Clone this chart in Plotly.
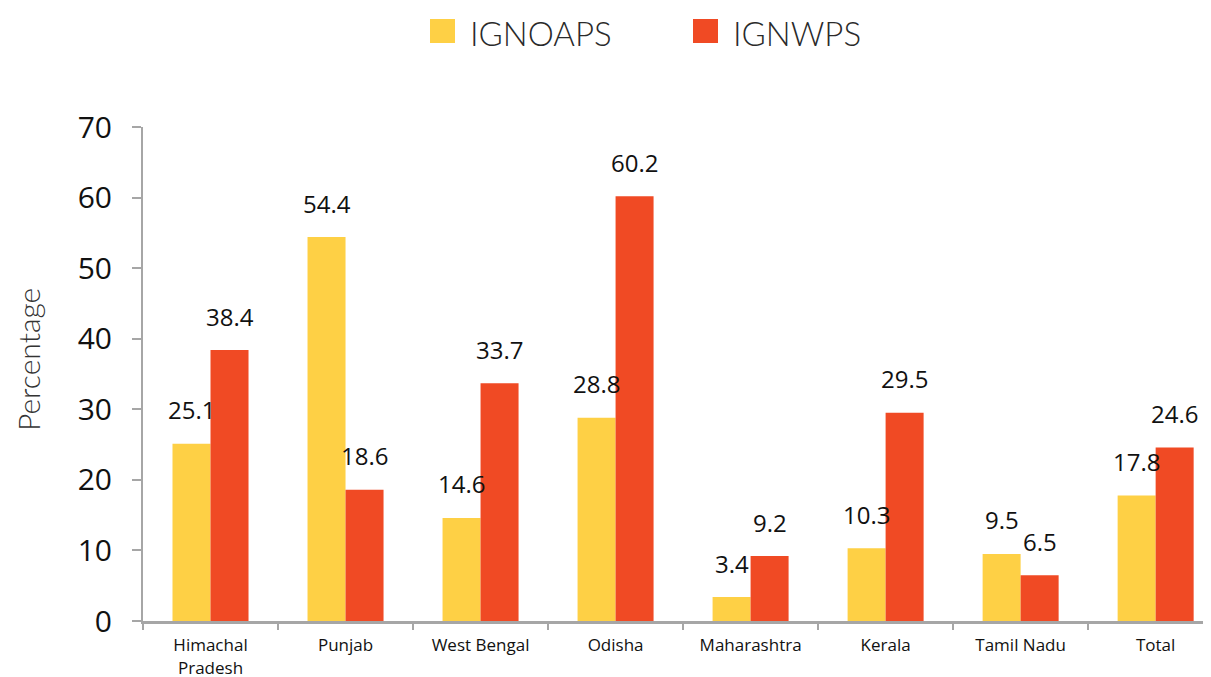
import plotly.graph_objects as go

categories = ["Himachal<br>Pradesh", "Punjab", "West Bengal", "Odisha",
              "Maharashtra", "Kerala", "Tamil Nadu", "Total"]
ignoaps = [25.1, 54.4, 14.6, 28.8, 3.4, 10.3, 9.5, 17.8]
ignwps = [38.4, 18.6, 33.7, 60.2, 9.2, 29.5, 6.5, 24.6]
series_names = ["IGNOAPS", "IGNWPS"]
colors = ["#FED045", "#F04A24"]
y_ticks = [0, 10, 20, 30, 40, 50, 60, 70]
y_title = "Percentage"

# page has an 8px body margin; figure sized to fit the window
OFF = 8
W, H = 1211 - OFF, 677 - OFF
L, R, T, B = 143 - OFF, 0, 127 - OFF, 677 - 621
plot_w = W - L - R
plot_h = H - T - B

fig = go.Figure()
for name, vals, col in zip(series_names, [ignoaps, ignwps], colors):
    fig.add_trace(go.Bar(x=categories, y=vals, name=name, marker_color=col,
                         marker_line_width=0, showlegend=False))

# data labels above bars
cat_px = plot_w / 7.91
bar_px = cat_px * (1 - 0.437) / 2
for i, (name, vals) in enumerate(zip(series_names, [ignoaps, ignwps])):
    xs = (-0.5 + i) * bar_px
    for c, v in zip(categories, vals):
        fig.add_annotation(x=c, y=v, text=f"{v:.1f}", showarrow=False,
                           xshift=xs, yshift=34, yanchor="middle",
                           font=dict(family="Open Sans", size=24, color="#111111"))

# manual legend (page pixel positions -> paper coords)
def px2paper_x(px):
    return (px - OFF - L) / plot_w

def px2paper_y(py):
    return (H - B - (py - OFF)) / plot_h

legend_items = [(430, 468), (693, 731)]
for (sx, tx), name, col in zip(legend_items, series_names, colors):
    fig.add_shape(type="rect", xref="paper", yref="paper",
                  x0=px2paper_x(sx), x1=px2paper_x(sx + 25),
                  y0=px2paper_y(43), y1=px2paper_y(19),
                  fillcolor=col, line_width=0)
    fig.add_annotation(xref="paper", yref="paper", x=px2paper_x(tx), y=px2paper_y(33),
                       text=name, showarrow=False, xanchor="left", yanchor="middle",
                       font=dict(family="Lato", size=33, color="#2a2a2a", weight=300))

# y-axis title as rotated annotation
fig.add_annotation(xref="paper", yref="paper", x=px2paper_x(28), y=px2paper_y(360),
                   text=y_title, textangle=-90, showarrow=False,
                   xanchor="center", yanchor="middle",
                   font=dict(family="Lato", size=30, color="#333333", weight=300))

fig.update_layout(
    width=W, height=H,
    margin=dict(l=L, r=R, t=T, b=B, autoexpand=False),
    paper_bgcolor="white", plot_bgcolor="white",
    barmode="group", bargap=0.437, bargroupgap=0,
    showlegend=False,
    xaxis=dict(range=[-0.5, 7.41], showline=True, linecolor="#A6A6A6", linewidth=3,
               ticks="outside", tickson="boundaries", ticklen=6, tickwidth=2,
               tickcolor="#A6A6A6", ticklabelstandoff=7, automargin=False,
               tickfont=dict(family="Open Sans", size=17, color="#111111"),
               showgrid=False, zeroline=False, fixedrange=True),
    yaxis=dict(range=[0, 70], tickvals=y_ticks, showline=True, linecolor="#A6A6A6",
               linewidth=2, ticks="outside", ticklen=9, tickwidth=2, tickcolor="#A6A6A6",
               ticklabelstandoff=14, automargin=False,
               tickfont=dict(family="Open Sans", size=30, color="#111111"),
               showgrid=False, zeroline=False),
)

fig.write_html("out.html")
